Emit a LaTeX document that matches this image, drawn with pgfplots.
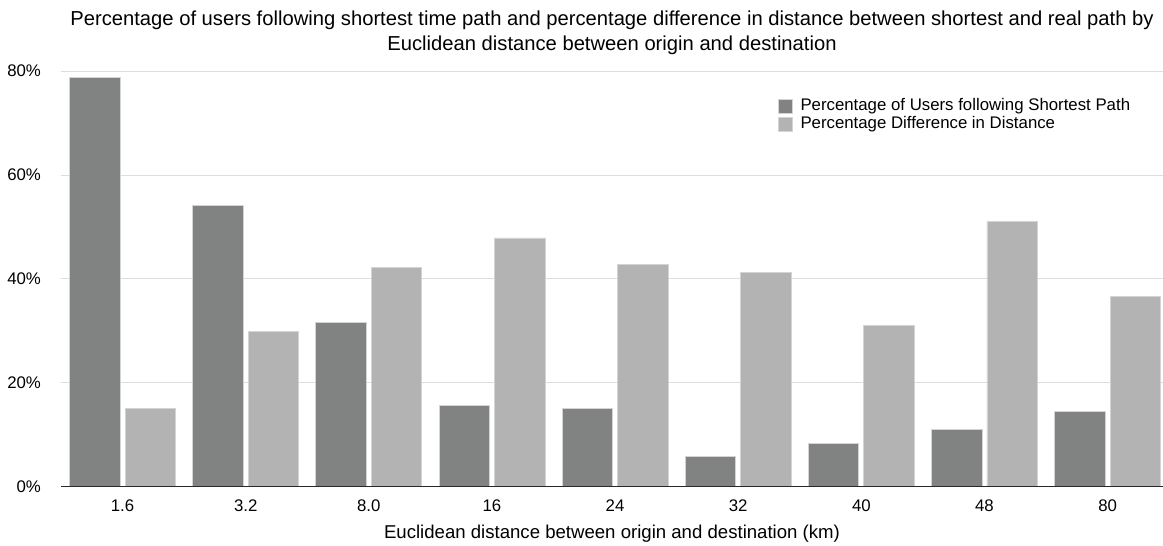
\documentclass[border=0pt]{standalone}
\usepackage{fontspec}
\setmainfont{Liberation Sans}
\usepackage{pgfplots}
\pgfplotsset{compat=1.18}
\usetikzlibrary{calc}
\definecolor{darkbar}{RGB}{128,131,130}
\definecolor{lightbar}{RGB}{179,179,179}
\definecolor{baredge}{RGB}{212,212,212}
\definecolor{gridc}{RGB}{221,221,221}
\definecolor{axisc}{RGB}{40,40,40}
\begin{document}
\begin{tikzpicture}
\begin{axis}[
  name=ax,
  scale only axis, width=551pt, height=208pt,
  xmin=-0.5, xmax=8.45, ymin=0, ymax=80,
  axis line style={draw=none},
  major tick length=0pt,
  ymajorgrids, grid style={gridc, line width=0.5pt},
  xtick={0,1,2,3,4,5,6,7,8},
  xticklabels={1.6,3.2,8.0,16,24,32,40,48,80},
  ytick={0,20,40,60,80},
  yticklabels={0\%,20\%,40\%,60\%,80\%},
  tick label style={font=\fontsize{8.4}{10}\selectfont},
  xticklabel style={yshift=-2.8pt},
  yticklabel style={xshift=-6.5pt},
  xlabel={Euclidean distance between origin and destination (km)},
  xlabel style={font=\fontsize{9.3}{11}\selectfont, at={(axis description cs:0.5,0)}, anchor=base, yshift=-25.9pt},
  ybar, bar width=0.41,
  legend style={draw=none, fill=none, at={(axis description cs:0.65,0.94)}, anchor=north west,
    font=\fontsize{8.4}{10}\selectfont, inner sep=0pt, row sep=-0.6pt,
    nodes={inner sep=1pt}},
  legend cell align=left,
  legend image code/.code={\fill[#1] (0pt,-3.5pt) rectangle (7pt,3.5pt); \path (10pt,0pt);},
]
\addplot[fill=darkbar, draw=baredge, line width=0.4pt, bar shift=-0.225] coordinates {
(0,78.7) (1,54.1) (2,31.6) (3,15.6) (4,15.1) (5,5.8) (6,8.4) (7,11.0) (8,14.5)};
\addlegendentry{Percentage of Users following Shortest Path}
\addplot[fill=lightbar, draw=baredge, line width=0.4pt, bar shift=0.225] coordinates {
(0,15.1) (1,29.9) (2,42.2) (3,47.9) (4,42.8) (5,41.3) (6,31.0) (7,51.0) (8,36.6)};
\addlegendentry{Percentage Difference in Distance}
\draw[axisc, line width=1pt] (rel axis cs:0,0) -- (rel axis cs:1,0);
\end{axis}
\node[anchor=base, font=\fontsize{10.1}{12}\selectfont] at ($(ax.north)+(0,23pt)$)
  {Percentage of users following shortest time path and percentage difference in distance between shortest and real path by};
\node[anchor=base, font=\fontsize{10.1}{12}\selectfont] at ($(ax.north)+(0,10.5pt)$)
  {Euclidean distance between origin and destination};
\pgfresetboundingbox
\path ($(ax.south west)+(-30.5pt,-29.35pt)$) rectangle ($(ax.north east)+(0pt,35.5pt)$);
\end{tikzpicture}
\end{document}
